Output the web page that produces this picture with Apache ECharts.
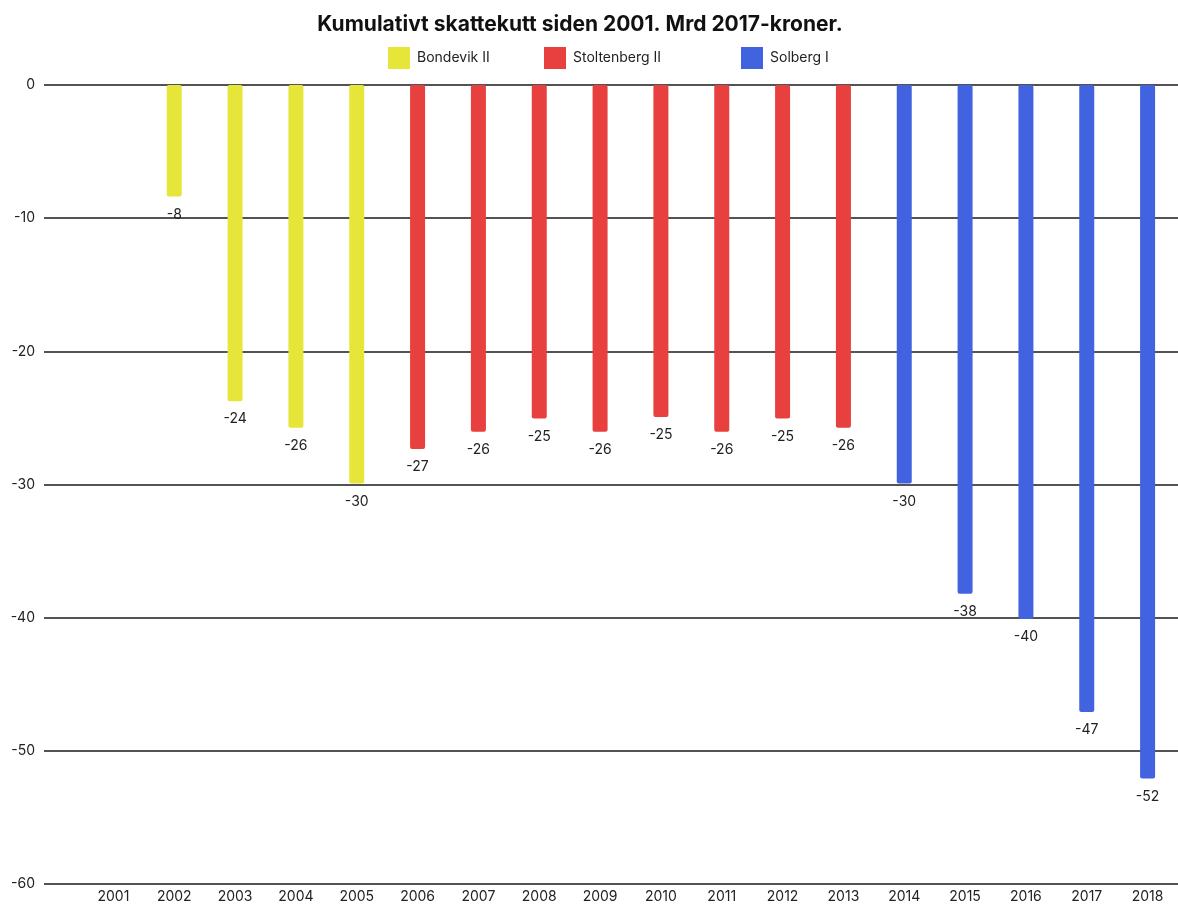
<!DOCTYPE html>
<html>
<head>
<meta charset="utf-8">
<script src="https://cdn.jsdelivr.net/npm/echarts@6/dist/echarts.min.js"></script>
<style>
  html, body { margin: 0; padding: 0; background: #fff; }
  #chart { width: 1178px; height: 904px; }
</style>
</head>
<body>
<div id="chart"></div>
<script>
// data
const years = ['2001', '2002', '2003', '2004', '2005', '2006', '2007', '2008', '2009',
  '2010', '2011', '2012', '2013', '2014', '2015', '2016', '2017', '2018'];
const bondevik = [null, -8.4, -23.8, -25.8, -30.0, null, null, null, null,
  null, null, null, null, null, null, null, null, null];
const stoltenberg = [null, null, null, null, null, -27.4, -26.1, -25.1, -26.1,
  -25.0, -26.1, -25.1, -25.8, null, null, null, null, null];
const solberg = [null, null, null, null, null, null, null, null, null,
  null, null, null, null, -30.0, -38.3, -40.2, -47.2, -52.2];
const yTicks = { min: -60, max: 0, interval: 10 };

const font = 'Inter, "Noto Sans", sans-serif';
const colYellow = '#e6e63a';
const colRed = '#e8403e';
const colBlue = '#4163e0';

function barSeries(name, data, color) {
  return {
    name: name,
    type: 'bar',
    stack: 'all',
    xAxisIndex: 1,
    yAxisIndex: 1,
    barWidth: 15,
    data: data,
    itemStyle: { color: color, borderRadius: 2 },
    label: {
      show: true,
      position: 'bottom',
      distance: 11,
      fontFamily: font,
      fontSize: 14,
      color: '#222',
      formatter: p => Math.round(p.value)
    }
  };
}

function legendItem(name, left) {
  return {
    left: left,
    top: 42,
    itemWidth: 22,
    itemHeight: 22,
    icon: 'rect',
    textStyle: { fontFamily: font, fontSize: 14, color: '#222', padding: [0, 0, 0, 2] },
    data: [name]
  };
}

const chart = echarts.init(document.getElementById('chart'));
chart.setOption({
  animation: false,
  title: {
    text: 'Kumulativt skattekutt siden 2001. Mrd 2017-kroner.',
    left: 575,
    textAlign: 'center',
    top: 9,
    textStyle: { fontFamily: font, fontWeight: 'bold', fontSize: 21, color: '#111' }
  },
  legend: [
    legendItem('Bondevik II', 383),
    legendItem('Stoltenberg II', 539),
    legendItem('Solberg I', 736)
  ],
  grid: [
    { left: 44, right: 0, top: 85, bottom: 20 },
    { left: 83, right: 0, top: 85, bottom: 20 }
  ],
  xAxis: [
    { type: 'category', gridIndex: 0, data: years, show: false },
    {
      type: 'category',
      gridIndex: 1,
      data: years,
      axisLine: { show: false },
      axisTick: { show: false },
      axisLabel: { fontFamily: font, fontSize: 14, color: '#222', margin: 8 }
    }
  ],
  yAxis: [
    {
      type: 'value',
      gridIndex: 0,
      min: yTicks.min,
      max: yTicks.max,
      interval: yTicks.interval,
      axisLine: { show: false },
      axisTick: { show: false },
      axisLabel: { fontFamily: font, fontSize: 14, color: '#222', margin: 9 },
      splitLine: { lineStyle: { color: '#1a1a1a', width: 1.5 } }
    },
    {
      type: 'value',
      gridIndex: 1,
      min: yTicks.min,
      max: yTicks.max,
      interval: yTicks.interval,
      show: false,
      splitLine: { show: false }
    }
  ],
  series: [
    barSeries('Bondevik II', bondevik, colYellow),
    barSeries('Stoltenberg II', stoltenberg, colRed),
    barSeries('Solberg I', solberg, colBlue)
  ]
});
</script>
</body>
</html>
